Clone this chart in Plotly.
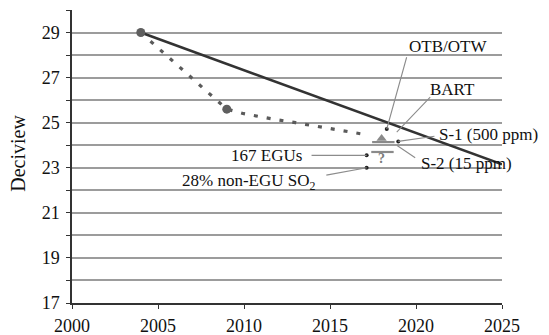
import plotly.graph_objects as go

# ---- data ----
glide_years = [2004, 2025]
glide_dv = [29.0, 23.15]

proj_years = [2004, 2005, 2006, 2007, 2008, 2009, 2010, 2011, 2012, 2013, 2014, 2015, 2016, 2017]
proj_dv = [29.0, 28.32, 27.64, 26.96, 26.28, 25.6, 25.4, 25.25, 25.12, 25.0, 24.87, 24.73, 24.6, 24.48]

start_pt = (2004, 29.0)
mid_pt = (2009, 25.6)

scen_tri = (2018.0, 24.3)      # OTB/OTW / BART cluster
scen_s_bar = (2018.1, 24.14)   # S-1 / S-2 bar
scen_egu_bar = (2018.05, 23.7) # 167 EGUs bar
scen_q = (2018.0, 23.43)       # "?" non-EGU

# label, label x, label y, anchor, head x, head y, tail x, tail y, arrowhead
labels = [
    ("OTB/OTW", 2021.86, 28.38, "center", 2018.3, 24.72, 2019.48, 27.97, 0),
    ("BART", 2022.15, 26.47, "center", 2018.88, 24.58, 2020.91, 26.2, 0),
    ("S-1 (500 ppm)", 2021.2, 24.48, "left", 2018.97, 24.17, 2021.16, 24.41, 0),
    ("S-2 (15 ppm)", 2020.2, 23.21, "left", 2018.9, 23.99, 2020.04, 23.4, 0),
    ("167 EGUs", 2013.49, 23.55, "right", 2017.13, 23.55, 2013.84, 23.55, 0),
    ("28% non-EGU SO<sub>2</sub>", 2014.3, 22.37, "right", 2017.13, 23.0, 2014.7, 22.66, 0),
]
head_dots_x = [2018.3, 2018.97, 2017.13, 2017.13]
head_dots_y = [24.72, 24.17, 23.55, 23.0]

y_ticks = list(range(17, 31))
y_ticktext = [str(v) if v % 2 == 1 else "" for v in y_ticks]
x_ticks = [2000, 2005, 2010, 2015, 2020, 2025]

FONT = "Liberation Serif, Times New Roman, serif"

fig = go.Figure()

fig.add_trace(go.Scatter(
    x=proj_years, y=proj_dv, mode="lines",
    line=dict(color="#5a5a5a", width=3.2, dash="4px,9px"),
    hoverinfo="skip", showlegend=False))

fig.add_trace(go.Scatter(
    x=glide_years, y=glide_dv, mode="lines",
    line=dict(color="#333333", width=2.6),
    hoverinfo="skip", showlegend=False))

fig.add_trace(go.Scatter(
    x=[start_pt[0], mid_pt[0]], y=[start_pt[1], mid_pt[1]], mode="markers",
    marker=dict(color="#5f5f5f", size=9),
    hoverinfo="skip", showlegend=False))

fig.add_trace(go.Scatter(
    x=[scen_tri[0]], y=[scen_tri[1]], mode="markers",
    marker=dict(color="#8a8a8a", size=9, symbol="triangle-up"),
    hoverinfo="skip", showlegend=False))

fig.add_trace(go.Scatter(
    x=[scen_s_bar[0], scen_egu_bar[0]], y=[scen_s_bar[1], scen_egu_bar[1]], mode="markers",
    marker=dict(color="#8a8a8a", size=16, symbol="line-ew",
                line=dict(color="#8a8a8a", width=2.2)),
    hoverinfo="skip", showlegend=False))

for (txt, lx, ly, anc, hx, hy, tx, ty, ah) in labels:
    fig.add_annotation(x=hx, y=hy, ax=tx, ay=ty, xref="x", yref="y",
                       axref="x", ayref="y", text="", showarrow=True,
                       arrowhead=ah, arrowwidth=1.1, arrowcolor="#8c8c8c",
                       standoff=0, startstandoff=0)
    fig.add_annotation(x=lx, y=ly, xref="x", yref="y", text=txt,
                       showarrow=False, xanchor=anc, yanchor="middle",
                       font=dict(family=FONT, size=17, color="#111111"))

fig.add_trace(go.Scatter(
    x=head_dots_x, y=head_dots_y, mode="markers",
    marker=dict(color="#222222", size=4),
    hoverinfo="skip", showlegend=False))

fig.add_annotation(x=scen_q[0], y=scen_q[1], xref="x", yref="y", text="<b>?</b>",
                   showarrow=False, font=dict(family=FONT, size=14, color="#7a7a7a"))

fig.add_annotation(x=-0.126, y=0.512, xref="paper", yref="paper", text="Deciview",
                   textangle=-90, showarrow=False, xanchor="center", yanchor="middle",
                   font=dict(family=FONT, size=20, color="#111111"))

# the page body adds an 8 px margin, so the figure is sized to fit the window
fig.update_layout(
    width=541, height=327,
    margin=dict(l=64, r=47, t=2, b=32),
    paper_bgcolor="white", plot_bgcolor="white",
    font=dict(family=FONT, color="#111111"),
    xaxis=dict(range=[2000, 2025], tickvals=x_ticks, showgrid=False,
               showline=True, linecolor="#333333", linewidth=1.5,
               ticks="outside", ticklen=4, tickcolor="#333333",
               tickfont=dict(family=FONT, size=18, color="#111111"),
               ticklabelstandoff=2, zeroline=False, automargin=False),
    yaxis=dict(range=[17, 30], tickvals=y_ticks, ticktext=y_ticktext,
               showgrid=True, gridcolor="#9c9c9c", gridwidth=1.5,
               showline=True, linecolor="#333333", linewidth=1.5,
               ticks="outside", ticklen=4, tickcolor="#333333",
               tickfont=dict(family=FONT, size=18, color="#111111"),
               ticklabelstandoff=3, zeroline=False, automargin=False),
)

fig.write_html("out.html")
